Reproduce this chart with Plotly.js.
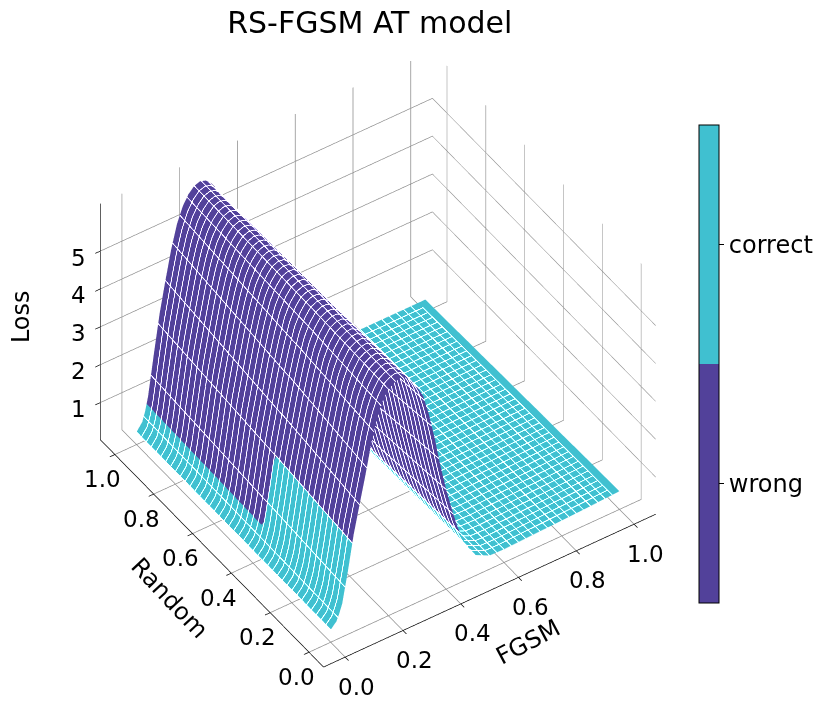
<!DOCTYPE html>
<html>
<head>
<meta charset="utf-8">
<script src="https://cdn.plot.ly/plotly-3.0.1.min.js"></script>
<style>html,body{margin:0;padding:0;background:#fff;}#chart{width:831px;height:714px;}</style>
</head>
<body>
<div id="chart"></div>
<script>
// FGSM perturbation fraction (x axis)
var fgsm = [0, 0.02, 0.03, 0.04, 0.06, 0.07, 0.08, 0.10, 0.12, 0.14, 0.16, 0.18, 0.20, 0.22, 0.24, 0.26, 0.28,
            0.30, 0.32, 0.34, 0.36, 0.38, 0.40, 0.42, 0.44, 0.46, 0.48, 0.50, 0.55, 0.60, 0.70, 0.80, 0.90, 1.00];
// Random perturbation fraction (y axis): rows where the loss profile was read
var random = [0, 0.39, 0.41, 1.0];
// loss along FGSM, read at Random = 0, ~0.4 and 1
var lossRandom0 = [0.35, 0.50, 0.68, 0.90, 1.70, 2.15, 2.60, 3.30, 4.00, 4.75, 5.35, 5.75, 6.00, 6.10, 6.15, 6.10, 5.95,
                   5.70, 5.40, 4.85, 4.15, 3.35, 2.65, 2.05, 1.50, 1.12, 0.80, 0.57, 0.38, 0.37, 0.40, 0.43, 0.46, 0.50];
var lossRandom04 = [0.35, 0.52, 0.73, 1.00, 1.90, 2.40, 2.85, 3.60, 4.35, 5.00, 5.55, 5.88, 6.08, 6.15, 6.15, 6.05, 5.85,
                    5.58, 5.20, 4.55, 3.80, 3.05, 2.40, 1.80, 1.32, 0.98, 0.70, 0.52, 0.37, 0.36, 0.38, 0.40, 0.42, 0.44];
var lossRandom1 = [0.35, 0.55, 0.80, 1.15, 2.20, 2.70, 3.20, 4.00, 4.75, 5.35, 5.75, 6.00, 6.15, 6.20, 6.15, 6.00, 5.75,
                   5.45, 4.90, 4.20, 3.40, 2.70, 2.05, 1.50, 1.10, 0.80, 0.58, 0.45, 0.36, 0.34, 0.34, 0.34, 0.34, 0.34];
var lossRows = [lossRandom0, lossRandom04, lossRandom04, lossRandom1];
// prediction is correct for FGSM <= correctUpTo and for FGSM >= correctFrom (per Random row)
var correctUpTo = [0.075, 0.075, 0.035, 0.035];
var correctFrom = [0.45, 0.45, 0.45, 0.44];
var classLabels = ['wrong', 'correct'];
// tick labels
var xyTicks = [0, 0.2, 0.4, 0.6, 0.8, 1.0];
var xyTickText = ['0.0', '0.2', '0.4', '0.6', '0.8', '1.0'];
var zTicks = [1, 2, 3, 4, 5];
var zTickText = ['1', '2', '3', '4', '5'];

var xRange = [-0.075, 1.075], yRange = [-0.075, 1.075], zRange = [0.02, 6.25];

var cMat = [];
for (var i = 0; i < random.length; i++) {
  var cr = [];
  for (var j = 0; j < fgsm.length; j++) {
    cr.push((fgsm[j] <= correctUpTo[i] || fgsm[j] >= correctFrom[i]) ? 1 : 0);
  }
  cMat.push(cr);
}

var purple = '#52419a', cyan = '#40c0d0';
var meshLine = 'rgba(255,255,255,0.3)';
var FONT = 'DejaVu Sans';

var trace = {
  type: 'surface',
  x: fgsm, y: random, z: lossRows,
  surfacecolor: cMat,
  cmin: 0, cmax: 1,
  colorscale: [[0, purple], [0.5, purple], [0.5, cyan], [1, cyan]],
  lighting: {ambient: 1, diffuse: 0, specular: 0, roughness: 1, fresnel: 0},
  contours: {
    x: {show: true, start: 0, end: 1, size: 0.025, color: meshLine, width: 1, highlight: false},
    y: {show: true, start: 0, end: 1, size: 0.025, color: meshLine, width: 1, highlight: false},
    z: {show: false, highlight: false}
  },
  hoverinfo: 'skip',
  showscale: true,
  colorbar: {
    tickvals: [0.25, 0.75], ticktext: [classLabels[0], classLabels[1]],
    x: 0.841, xanchor: 'left', y: 0.49, yanchor: 'middle',
    len: 0.67, lenmode: 'fraction', thickness: 20, thicknessmode: 'pixels',
    outlinewidth: 1, outlinecolor: '#000', ticks: 'outside', ticklen: 5, tickcolor: '#000',
    tickfont: {family: FONT, size: 24, color: '#000'}, xpad: 0, ypad: 0
  }
};

var axisBase = {
  showbackground: false, gridcolor: '#8c8c8c', gridwidth: 1.5,
  showline: true, linecolor: '#000', linewidth: 1.5,
  ticks: 'outside', ticklen: 6, tickcolor: '#000', tickwidth: 1.5,
  zeroline: false, showspikes: false, showticklabels: false,
  title: {text: ''}
};
function ax(extra) { var o = JSON.parse(JSON.stringify(axisBase)); for (var k in extra) o[k] = extra[k]; return o; }

// tick labels and axis titles as scene annotations anchored on the 3D axes
var tickFont = {family: FONT, size: 23, color: '#000'};
var titleFont = {family: FONT, size: 24, color: '#000'};
var ann = [];
xyTicks.forEach(function (v, k) {
  ann.push({x: v, y: yRange[0], z: zRange[0], text: xyTickText[k], showarrow: false,
            xshift: 11, yshift: -29, font: tickFont});
  ann.push({x: xRange[0], y: v, z: zRange[0], text: xyTickText[k], showarrow: false,
            xshift: -13, yshift: -24, font: tickFont});
});
zTicks.forEach(function (v, k) {
  ann.push({x: xRange[0], y: yRange[1], z: v, text: zTickText[k], showarrow: false,
            xshift: -22, yshift: -6, font: tickFont});
});
ann.push({x: 0.5, y: yRange[0], z: zRange[0], text: 'FGSM', showarrow: false, textangle: -28,
          xshift: 38, yshift: -51, font: titleFont});
ann.push({x: xRange[0], y: 0.5, z: zRange[0], text: 'Random', showarrow: false, textangle: 47,
          xshift: -43, yshift: -44, font: titleFont});
ann.push({x: xRange[0], y: yRange[1], z: 3, text: 'Loss', showarrow: false, textangle: -90,
          xshift: -79, yshift: 11, font: titleFont});

var layout = {
  width: 831, height: 714,
  margin: {l: 0, r: 0, t: 0, b: 0},
  paper_bgcolor: '#fff',
  font: {family: FONT, color: '#000'},
  title: {text: 'RS-FGSM AT model', x: 0.445, xanchor: 'center', y: 0.968, yanchor: 'middle',
          font: {family: FONT, size: 30, color: '#000'}},
  scene: {
    domain: {x: [0.015, 0.896], y: [0.009, 0.984]},
    aspectmode: 'manual', aspectratio: {x: 1.15, y: 1.15, z: 0.93},
    camera: {
      eye: {x: -0.82, y: -1.22, z: 1.38},
      up: {x: 0, y: 0, z: 1}, center: {x: 0, y: 0, z: 0},
      projection: {type: 'orthographic'}
    },
    xaxis: ax({range: xRange, tickvals: xyTicks}),
    yaxis: ax({range: yRange, tickvals: xyTicks}),
    zaxis: ax({range: zRange, tickvals: zTicks}),
    annotations: ann
  }
};

Plotly.newPlot('chart', [trace], layout, {displayModeBar: false});
</script>
</body>
</html>
